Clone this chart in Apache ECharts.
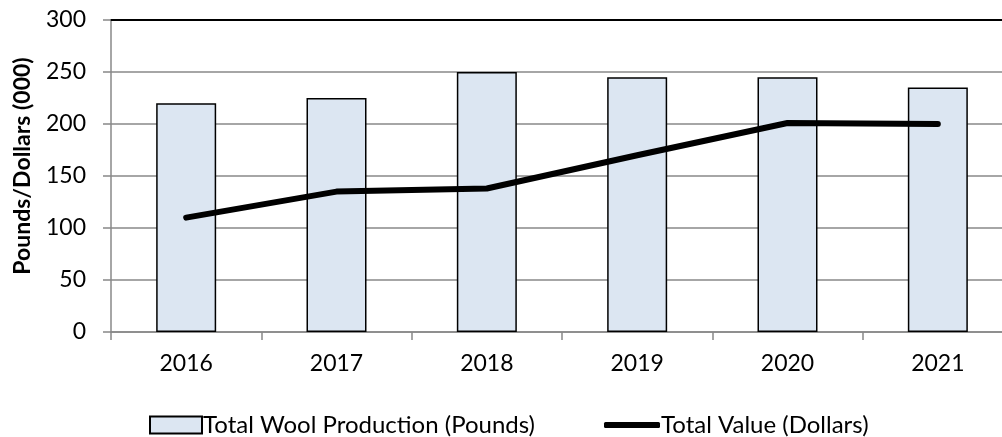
<!DOCTYPE html>
<html>
<head>
<meta charset="utf-8">
<script src="https://cdn.jsdelivr.net/npm/echarts@6/dist/echarts.min.js"></script>
<style>
html,body{margin:0;padding:0;background:#fff;overflow:hidden;width:1002px;height:437px;}
#chart{width:1016px;height:437px;}
</style>
</head>
<body>
<div id="chart"></div>
<script>
var years = ['2016', '2017', '2018', '2019', '2020', '2021'];
var woolPounds = [220, 225, 250, 245, 245, 235];
var valueDollars = [110, 135, 138, 170, 201, 200];
var yTicks = { min: 0, max: 300, interval: 50 };
var yAxisTitle = 'Pounds/Dollars (000)';
var barName = 'Total Wool Production (Pounds)';
var lineName = 'Total Value (Dollars)';

var FONT = 'Lato, "Open Sans", sans-serif';
var chart = echarts.init(document.getElementById('chart'), null, { renderer: 'canvas' });
chart.setOption({
  backgroundColor: '#ffffff',
  animation: false,
  textStyle: { fontFamily: FONT, color: '#000' },
  grid: { left: 111, top: 20, width: 902, height: 312, containLabel: false },
  legend: [
    {
      data: [{ name: barName, icon: 'rect' }], left: 144, top: 408,
      itemWidth: 52, itemHeight: 17, itemGap: 6,
      textStyle: { fontFamily: FONT, fontSize: 24, color: '#000', padding: [0, 0, 0, -4] }
    },
    {
      data: [{ name: lineName, icon: 'roundRect', itemStyle: { color: '#000', borderWidth: 0 } }],
      left: 599, top: 408,
      itemWidth: 56, itemHeight: 6, itemGap: 6,
      textStyle: { fontFamily: FONT, fontSize: 24, color: '#000', padding: [0, 0, 0, -4] }
    }
  ],
  graphic: [{
    type: 'text',
    x: 23, y: 166,
    rotation: Math.PI / 2,
    style: {
      text: yAxisTitle,
      fontFamily: FONT, fontSize: 23, fontWeight: 'bold', fill: '#000',
      align: 'center', verticalAlign: 'middle'
    }
  }],
  xAxis: [
    {
      type: 'category', data: years, position: 'bottom',
      axisLine: { show: true, lineStyle: { color: '#888', width: 1.5 } },
      axisTick: { show: true, length: 8, inside: false, lineStyle: { color: '#888', width: 1.5 } },
      axisLabel: { fontFamily: FONT, fontSize: 23, color: '#000', margin: 20 },
      splitLine: { show: false }
    },
    {
      type: 'category', data: years, position: 'top',
      axisLine: { show: true, lineStyle: { color: '#000', width: 2 } },
      axisTick: { show: false }, axisLabel: { show: false }, splitLine: { show: false }
    }
  ],
  yAxis: {
    type: 'value', min: yTicks.min, max: yTicks.max, interval: yTicks.interval,
    axisLine: { show: true, lineStyle: { color: '#888', width: 1.5 } },
    axisTick: { show: true, length: 8, inside: false, lineStyle: { color: '#888', width: 1.5 } },
    axisLabel: { fontFamily: FONT, fontSize: 23, color: '#000', margin: 25 },
    splitLine: { show: true, lineStyle: { color: '#888', width: 1.5 } }
  },
  series: [
    {
      name: barName, type: 'bar', data: woolPounds, barWidth: 60, z: 2,
      itemStyle: { color: '#DCE6F2', borderColor: '#000', borderWidth: 1.5 }
    },
    {
      name: lineName, type: 'line', data: valueDollars, z: 3,
      symbol: 'none', showSymbol: false,
      lineStyle: { color: '#000', width: 6, cap: 'round', join: 'round' },
      itemStyle: { color: '#000' }
    }
  ]
});
</script>
</body>
</html>
